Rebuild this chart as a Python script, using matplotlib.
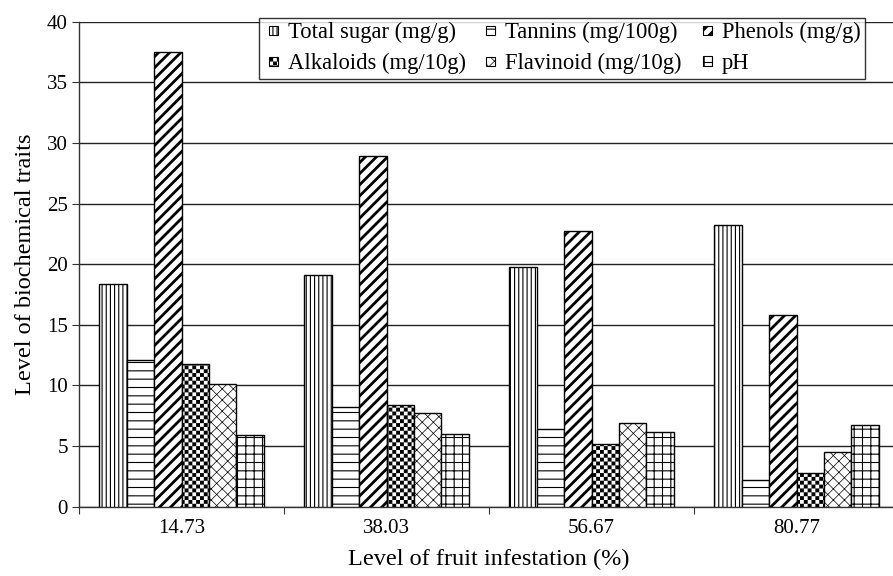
import numpy as np
import matplotlib
matplotlib.use("Agg")
import matplotlib.pyplot as plt
import matplotlib.hatch as mhatch
import matplotlib.patches as mpatches
from matplotlib.path import Path
from matplotlib.legend_handler import HandlerPatch
from matplotlib.container import BarContainer

# ---------------- data ----------------
categories = ["14.73", "38.03", "56.67", "80.77"]
series_names = ["Total sugar (mg/g)", "Tannins (mg/100g)", "Phenols (mg/g)",
                "Alkaloids (mg/10g)", "Flavinoid (mg/10g)", "pH"]
total_sugar = [18.4, 19.1, 19.8, 23.2]
tannins = [12.1, 8.2, 6.4, 2.2]
phenols = [37.5, 28.9, 22.7, 15.8]
alkaloids = [11.8, 8.4, 5.2, 2.8]
flavinoid = [10.1, 7.7, 6.9, 4.5]
ph = [5.9, 6.0, 6.2, 6.7]
yticks = [0, 5, 10, 15, 20, 25, 30, 35, 40]


# ---------------- custom checkerboard hatch ----------------
class Checker(mhatch.HatchPatternBase):
    def __init__(self, hatch, density):
        self.cells = 26 if hatch.count('O') else 0
        self.num_vertices = (self.cells * self.cells // 2) * 5 if self.cells else 0

    def set_vertices_and_codes(self, vertices, codes):
        c = self.cells
        s = 1.0 / c
        k = 0
        for i in range(c):
            for j in range(c):
                if (i + j) % 2 == 0:
                    x, y = i * s, j * s
                    vertices[k:k + 5] = [[x, y], [x + s, y], [x + s, y + s],
                                         [x, y + s], [x, y]]
                    codes[k:k + 5] = [Path.MOVETO, Path.LINETO, Path.LINETO,
                                      Path.LINETO, Path.CLOSEPOLY]
                    k += 5


mhatch._hatch_types = [Checker if t is mhatch.LargeCircles else t
                       for t in mhatch._hatch_types]

plt.rcParams['font.family'] = ['Liberation Serif', 'DejaVu Serif']

fig = plt.figure(figsize=(8.93, 5.76), dpi=100)
ax = fig.add_axes([79 / 893, 1 - 506.7 / 576, 820 / 893, (506.7 - 21.7) / 576])

values = [total_sugar, tannins, phenols, alkaloids, flavinoid, ph]
hatches = ['||||', '--', '///', 'O', 'xxx', '++']
hatch_lw = [0.8, 0.8, 2.0, 0.05, 0.5, 0.8]
x = np.arange(len(categories))
w = 0.134
handles = []
for i, (vals, h, hl) in enumerate(zip(values, hatches, hatch_lw)):
    bars = ax.bar(x + (i - 2.5) * w, vals, w, color='white', edgecolor='black',
                  linewidth=1.0, hatch=h, label=series_names[i], zorder=3)
    for p in bars.patches:
        if hasattr(p, 'set_hatch_linewidth'):
            p.set_hatch_linewidth(hl)
    handles.append(bars)

ax.set_xlim(-0.5, 3.5)
ax.set_ylim(0, 40)
ax.set_yticks(yticks)
ax.yaxis.grid(True, color='#222222', linewidth=1.0, zorder=0)
ax.set_axisbelow(True)
for s in ['top', 'right']:
    ax.spines[s].set_visible(False)
for s in ['left', 'bottom']:
    ax.spines[s].set_color('#333333')
    ax.spines[s].set_linewidth(1.0)

ax.set_xticks(np.arange(-0.5, 4.0, 1.0))
ax.set_xticklabels([])
ax.tick_params(axis='x', which='major', direction='out', length=5, color='#333333')
ax.set_xticks(x, minor=True)
ax.set_xticklabels(categories, minor=True)
ax.tick_params(axis='x', which='minor', length=0, pad=9, labelsize=15)
ax.tick_params(axis='y', direction='out', length=5, color='#333333', labelsize=15, pad=3)

ax.set_xlabel("Level of fruit infestation (%)", fontsize=17.5, labelpad=8)
ax.set_ylabel("Level of biochemical traits", fontsize=17.5, labelpad=8)


# small square legend keys placed at the right of the handle box
def small_square(legend, orig_handle, xdescent, ydescent, width, height, fontsize):
    s = 6.5
    return mpatches.Rectangle((-xdescent + width - s, -ydescent + (height - s) / 2), s, s)


def copy_style(handle, orig):
    src = orig.patches[0]
    handle.update_from(src)
    handle.set_linewidth(0.8)
    if hasattr(handle, 'set_hatch_linewidth') and hasattr(src, 'get_hatch_linewidth'):
        handle.set_hatch_linewidth(src.get_hatch_linewidth())


order = [0, 3, 1, 4, 2, 5]
leg = fig.legend([handles[i] for i in order], [series_names[i] for i in order],
                 ncol=3, loc='upper left', bbox_to_anchor=(259 / 893, 1 - 17.7 / 576),
                 fontsize=16.3, frameon=True, fancybox=False, borderaxespad=0,
                 handlelength=0.62, handleheight=0.7, handletextpad=0.44,
                 columnspacing=0.7, labelspacing=0.42, borderpad=0.2,
                 handler_map={BarContainer: HandlerPatch(patch_func=small_square,
                                                         update_func=copy_style)})
leg.get_frame().set_edgecolor('black')
leg.get_frame().set_linewidth(1.0)

fig.savefig("out.png", dpi=100)
